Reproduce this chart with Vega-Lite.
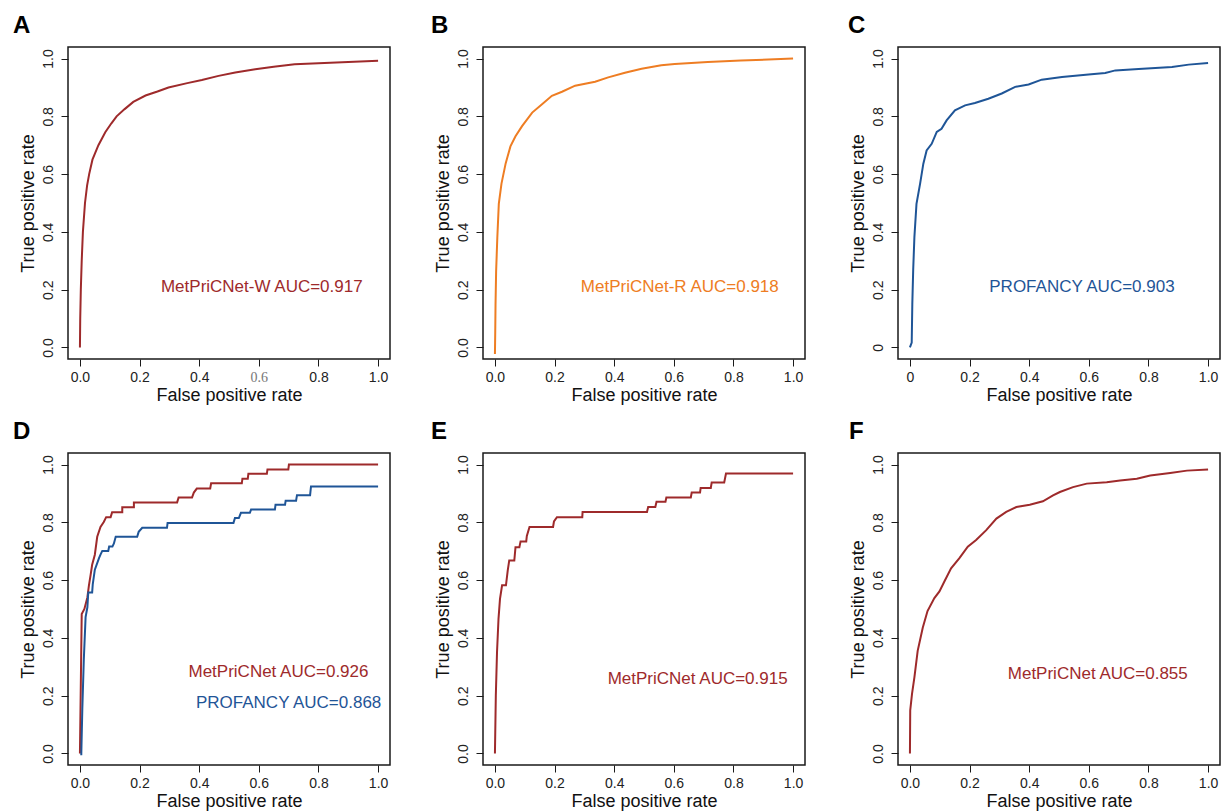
{
  "$schema": "https://vega.github.io/schema/vega-lite/v6.json",
  "background": "white",
  "padding": {"left": 12, "top": 13, "right": 0, "bottom": 0},
  "columns": 3,
  "spacing": {"row": 94, "column": 93},
  "bounds": "flush",
  "datasets": {
    "A": [
      {"fpr":0,"tpr":0},{"fpr":0.001,"tpr":0.1},{"fpr":0.003,"tpr":0.2},{"fpr":0.006,"tpr":0.3},{"fpr":0.01,"tpr":0.4},{"fpr":0.017,"tpr":0.5},{"fpr":0.024,"tpr":0.56},{"fpr":0.031,"tpr":0.6},{"fpr":0.042,"tpr":0.65},{"fpr":0.062,"tpr":0.7},{"fpr":0.085,"tpr":0.745},{"fpr":0.105,"tpr":0.775},{"fpr":0.123,"tpr":0.8},{"fpr":0.15,"tpr":0.825},{"fpr":0.179,"tpr":0.85},{"fpr":0.22,"tpr":0.872},{"fpr":0.26,"tpr":0.886},{"fpr":0.297,"tpr":0.9},{"fpr":0.36,"tpr":0.915},{"fpr":0.409,"tpr":0.926},{"fpr":0.465,"tpr":0.94},{"fpr":0.521,"tpr":0.952},{"fpr":0.588,"tpr":0.963},{"fpr":0.65,"tpr":0.972},{"fpr":0.72,"tpr":0.98},{"fpr":0.8,"tpr":0.984},{"fpr":0.9,"tpr":0.988},{"fpr":1,"tpr":0.992}
    ],
    "B": [
      {"fpr":0,"tpr":-0.023},{"fpr":0.001,"tpr":0.05},{"fpr":0.002,"tpr":0.146},{"fpr":0.004,"tpr":0.263},{"fpr":0.008,"tpr":0.38},{"fpr":0.013,"tpr":0.497},{"fpr":0.022,"tpr":0.567},{"fpr":0.036,"tpr":0.637},{"fpr":0.052,"tpr":0.696},{"fpr":0.069,"tpr":0.731},{"fpr":0.091,"tpr":0.766},{"fpr":0.125,"tpr":0.813},{"fpr":0.158,"tpr":0.842},{"fpr":0.191,"tpr":0.871},{"fpr":0.225,"tpr":0.885},{"fpr":0.269,"tpr":0.906},{"fpr":0.336,"tpr":0.92},{"fpr":0.38,"tpr":0.935},{"fpr":0.436,"tpr":0.951},{"fpr":0.492,"tpr":0.965},{"fpr":0.558,"tpr":0.977},{"fpr":0.603,"tpr":0.981},{"fpr":0.714,"tpr":0.988},{"fpr":0.825,"tpr":0.993},{"fpr":1,"tpr":1.0}
    ],
    "C": [
      {"fpr":0,"tpr":0},{"fpr":0.006,"tpr":0.017},{"fpr":0.008,"tpr":0.15},{"fpr":0.011,"tpr":0.27},{"fpr":0.015,"tpr":0.382},{"fpr":0.022,"tpr":0.497},{"fpr":0.034,"tpr":0.566},{"fpr":0.045,"tpr":0.636},{"fpr":0.056,"tpr":0.682},{"fpr":0.073,"tpr":0.705},{"fpr":0.09,"tpr":0.746},{"fpr":0.106,"tpr":0.757},{"fpr":0.123,"tpr":0.786},{"fpr":0.151,"tpr":0.821},{"fpr":0.185,"tpr":0.838},{"fpr":0.218,"tpr":0.846},{"fpr":0.263,"tpr":0.861},{"fpr":0.308,"tpr":0.879},{"fpr":0.353,"tpr":0.902},{"fpr":0.398,"tpr":0.91},{"fpr":0.442,"tpr":0.927},{"fpr":0.51,"tpr":0.936},{"fpr":0.599,"tpr":0.945},{"fpr":0.655,"tpr":0.95},{"fpr":0.689,"tpr":0.959},{"fpr":0.767,"tpr":0.964},{"fpr":0.879,"tpr":0.971},{"fpr":0.935,"tpr":0.979},{"fpr":1,"tpr":0.985}
    ],
    "D": [
      {"series":"MetPriCNet","fpr":0,"tpr":0},{"series":"MetPriCNet","fpr":0.006,"tpr":0.483},{"series":"MetPriCNet","fpr":0.015,"tpr":0.5},{"series":"MetPriCNet","fpr":0.02,"tpr":0.52},{"series":"MetPriCNet","fpr":0.025,"tpr":0.54},{"series":"MetPriCNet","fpr":0.03,"tpr":0.58},{"series":"MetPriCNet","fpr":0.036,"tpr":0.619},{"series":"MetPriCNet","fpr":0.041,"tpr":0.653},{"series":"MetPriCNet","fpr":0.05,"tpr":0.688},{"series":"MetPriCNet","fpr":0.058,"tpr":0.75},{"series":"MetPriCNet","fpr":0.069,"tpr":0.784},{"series":"MetPriCNet","fpr":0.08,"tpr":0.801},{"series":"MetPriCNet","fpr":0.088,"tpr":0.818},{"series":"MetPriCNet","fpr":0.103,"tpr":0.818},{"series":"MetPriCNet","fpr":0.108,"tpr":0.835},{"series":"MetPriCNet","fpr":0.142,"tpr":0.835},{"series":"MetPriCNet","fpr":0.142,"tpr":0.852},{"series":"MetPriCNet","fpr":0.181,"tpr":0.852},{"series":"MetPriCNet","fpr":0.181,"tpr":0.869},{"series":"MetPriCNet","fpr":0.326,"tpr":0.869},{"series":"MetPriCNet","fpr":0.331,"tpr":0.886},{"series":"MetPriCNet","fpr":0.376,"tpr":0.886},{"series":"MetPriCNet","fpr":0.382,"tpr":0.903},{"series":"MetPriCNet","fpr":0.392,"tpr":0.917},{"series":"MetPriCNet","fpr":0.437,"tpr":0.917},{"series":"MetPriCNet","fpr":0.44,"tpr":0.935},{"series":"MetPriCNet","fpr":0.543,"tpr":0.935},{"series":"MetPriCNet","fpr":0.545,"tpr":0.951},{"series":"MetPriCNet","fpr":0.563,"tpr":0.951},{"series":"MetPriCNet","fpr":0.565,"tpr":0.968},{"series":"MetPriCNet","fpr":0.627,"tpr":0.968},{"series":"MetPriCNet","fpr":0.629,"tpr":0.983},{"series":"MetPriCNet","fpr":0.699,"tpr":0.983},{"series":"MetPriCNet","fpr":0.701,"tpr":1.0},{"series":"MetPriCNet","fpr":1,"tpr":1.0},
      {"series":"PROFANCY","fpr":0.0045,"tpr":-0.006},{"series":"PROFANCY","fpr":0.008,"tpr":0.153},{"series":"PROFANCY","fpr":0.013,"tpr":0.324},{"series":"PROFANCY","fpr":0.019,"tpr":0.472},{"series":"PROFANCY","fpr":0.025,"tpr":0.506},{"series":"PROFANCY","fpr":0.028,"tpr":0.557},{"series":"PROFANCY","fpr":0.041,"tpr":0.557},{"series":"PROFANCY","fpr":0.043,"tpr":0.585},{"series":"PROFANCY","fpr":0.05,"tpr":0.636},{"series":"PROFANCY","fpr":0.064,"tpr":0.676},{"series":"PROFANCY","fpr":0.069,"tpr":0.688},{"series":"PROFANCY","fpr":0.075,"tpr":0.701},{"series":"PROFANCY","fpr":0.095,"tpr":0.701},{"series":"PROFANCY","fpr":0.098,"tpr":0.716},{"series":"PROFANCY","fpr":0.109,"tpr":0.716},{"series":"PROFANCY","fpr":0.114,"tpr":0.727},{"series":"PROFANCY","fpr":0.12,"tpr":0.75},{"series":"PROFANCY","fpr":0.192,"tpr":0.75},{"series":"PROFANCY","fpr":0.197,"tpr":0.767},{"series":"PROFANCY","fpr":0.209,"tpr":0.781},{"series":"PROFANCY","fpr":0.292,"tpr":0.781},{"series":"PROFANCY","fpr":0.294,"tpr":0.798},{"series":"PROFANCY","fpr":0.515,"tpr":0.798},{"series":"PROFANCY","fpr":0.52,"tpr":0.815},{"series":"PROFANCY","fpr":0.533,"tpr":0.815},{"series":"PROFANCY","fpr":0.54,"tpr":0.833},{"series":"PROFANCY","fpr":0.57,"tpr":0.833},{"series":"PROFANCY","fpr":0.574,"tpr":0.844},{"series":"PROFANCY","fpr":0.654,"tpr":0.844},{"series":"PROFANCY","fpr":0.656,"tpr":0.861},{"series":"PROFANCY","fpr":0.688,"tpr":0.861},{"series":"PROFANCY","fpr":0.69,"tpr":0.875},{"series":"PROFANCY","fpr":0.725,"tpr":0.875},{"series":"PROFANCY","fpr":0.728,"tpr":0.894},{"series":"PROFANCY","fpr":0.772,"tpr":0.894},{"series":"PROFANCY","fpr":0.775,"tpr":0.924},{"series":"PROFANCY","fpr":1,"tpr":0.924}
    ],
    "E": [
      {"fpr":0,"tpr":0},{"fpr":0.003,"tpr":0.2},{"fpr":0.007,"tpr":0.35},{"fpr":0.012,"tpr":0.466},{"fpr":0.017,"tpr":0.535},{"fpr":0.024,"tpr":0.582},{"fpr":0.037,"tpr":0.582},{"fpr":0.043,"tpr":0.634},{"fpr":0.048,"tpr":0.668},{"fpr":0.065,"tpr":0.668},{"fpr":0.069,"tpr":0.714},{"fpr":0.082,"tpr":0.714},{"fpr":0.086,"tpr":0.734},{"fpr":0.105,"tpr":0.734},{"fpr":0.107,"tpr":0.753},{"fpr":0.116,"tpr":0.784},{"fpr":0.195,"tpr":0.784},{"fpr":0.198,"tpr":0.803},{"fpr":0.208,"tpr":0.818},{"fpr":0.293,"tpr":0.818},{"fpr":0.294,"tpr":0.836},{"fpr":0.51,"tpr":0.836},{"fpr":0.514,"tpr":0.853},{"fpr":0.538,"tpr":0.853},{"fpr":0.542,"tpr":0.871},{"fpr":0.572,"tpr":0.871},{"fpr":0.575,"tpr":0.886},{"fpr":0.657,"tpr":0.886},{"fpr":0.66,"tpr":0.903},{"fpr":0.688,"tpr":0.903},{"fpr":0.69,"tpr":0.919},{"fpr":0.724,"tpr":0.919},{"fpr":0.727,"tpr":0.938},{"fpr":0.769,"tpr":0.938},{"fpr":0.775,"tpr":0.969},{"fpr":1,"tpr":0.969}
    ],
    "F": [
      {"fpr":0,"tpr":0},{"fpr":0.001,"tpr":0.149},{"fpr":0.007,"tpr":0.206},{"fpr":0.015,"tpr":0.263},{"fpr":0.026,"tpr":0.355},{"fpr":0.043,"tpr":0.435},{"fpr":0.059,"tpr":0.493},{"fpr":0.082,"tpr":0.538},{"fpr":0.099,"tpr":0.561},{"fpr":0.116,"tpr":0.596},{"fpr":0.138,"tpr":0.641},{"fpr":0.166,"tpr":0.676},{"fpr":0.194,"tpr":0.716},{"fpr":0.222,"tpr":0.739},{"fpr":0.256,"tpr":0.773},{"fpr":0.29,"tpr":0.813},{"fpr":0.323,"tpr":0.836},{"fpr":0.357,"tpr":0.853},{"fpr":0.402,"tpr":0.861},{"fpr":0.446,"tpr":0.873},{"fpr":0.48,"tpr":0.893},{"fpr":0.503,"tpr":0.905},{"fpr":0.547,"tpr":0.922},{"fpr":0.593,"tpr":0.934},{"fpr":0.66,"tpr":0.939},{"fpr":0.705,"tpr":0.945},{"fpr":0.761,"tpr":0.951},{"fpr":0.806,"tpr":0.962},{"fpr":0.873,"tpr":0.971},{"fpr":0.929,"tpr":0.979},{"fpr":1,"tpr":0.983}
    ]
  },
  "concat": [
    {
      "width": 322, "height": 312,
      "title": {"text": "A", "dx": -55},
      "encoding": {
        "x": {"field": "fpr", "type": "quantitative", "scale": {"domain": [-0.04, 1.04], "nice": false, "zero": false},
              "axis": {"title": "False positive rate", "values": [0, 0.2, 0.4, 0.6, 0.8, 1.0], "format": ".1f",
                       "labelFont": {"condition": {"test": "datum.value == 0.6", "value": "Liberation Serif"}, "value": "Liberation Sans"},
                       "labelColor": {"condition": {"test": "datum.value == 0.6", "value": "#777777"}, "value": "#222222"}}},
        "y": {"field": "tpr", "type": "quantitative", "scale": {"domain": [-0.04, 1.04], "nice": false, "zero": false},
              "axis": {"title": "True positive rate", "values": [0, 0.2, 0.4, 0.6, 0.8, 1.0], "format": ".1f"}}
      },
      "layer": [
        {"data": {"name": "A"}, "mark": {"type": "line", "color": "#9e2a2b", "strokeWidth": 2}, "encoding": {"order": {"value": null}}},
        {"data": {"values": [{"fpr": 0.61, "tpr": 0.21, "label": "MetPriCNet-W AUC=0.917"}]},
         "mark": {"type": "text", "color": "#9e2a2b", "fontSize": 17, "font": "Liberation Sans"}, "encoding": {"text": {"field": "label"}}}
      ]
    },
    {
      "width": 322, "height": 312,
      "title": {"text": "B", "dx": -52},
      "encoding": {
        "x": {"field": "fpr", "type": "quantitative", "scale": {"domain": [-0.04, 1.04], "nice": false, "zero": false},
              "axis": {"title": "False positive rate", "values": [0, 0.2, 0.4, 0.6, 0.8, 1.0], "format": ".1f"}},
        "y": {"field": "tpr", "type": "quantitative", "scale": {"domain": [-0.04, 1.04], "nice": false, "zero": false},
              "axis": {"title": "True positive rate", "values": [0, 0.2, 0.4, 0.6, 0.8, 1.0], "format": ".1f"}}
      },
      "layer": [
        {"data": {"name": "B"}, "mark": {"type": "line", "color": "#ee7d23", "strokeWidth": 2}, "encoding": {"order": {"value": null}}},
        {"data": {"values": [{"fpr": 0.62, "tpr": 0.21, "label": "MetPriCNet-R AUC=0.918"}]},
         "mark": {"type": "text", "color": "#ee7d23", "fontSize": 17, "font": "Liberation Sans"}, "encoding": {"text": {"field": "label"}}}
      ]
    },
    {
      "width": 322, "height": 312,
      "title": {"text": "C", "dx": -50},
      "encoding": {
        "x": {"field": "fpr", "type": "quantitative", "scale": {"domain": [-0.04, 1.04], "nice": false, "zero": false},
              "axis": {"title": "False positive rate", "values": [0, 0.2, 0.4, 0.6, 0.8, 1.0], "labelExpr": "datum.value == 0 ? '0' : format(datum.value, '.1f')"}},
        "y": {"field": "tpr", "type": "quantitative", "scale": {"domain": [-0.04, 1.04], "nice": false, "zero": false},
              "axis": {"title": "True positive rate", "values": [0, 0.2, 0.4, 0.6, 0.8, 1.0], "labelExpr": "datum.value == 0 ? '0' : format(datum.value, '.1f')"}}
      },
      "layer": [
        {"data": {"name": "C"}, "mark": {"type": "line", "color": "#1f5597", "strokeWidth": 2}, "encoding": {"order": {"value": null}}},
        {"data": {"values": [{"fpr": 0.577, "tpr": 0.208, "label": "PROFANCY AUC=0.903"}]},
         "mark": {"type": "text", "color": "#1f5597", "fontSize": 17, "font": "Liberation Sans"}, "encoding": {"text": {"field": "label"}}}
      ]
    },
    {
      "width": 322, "height": 312,
      "title": {"text": "D", "dx": -55},
      "encoding": {
        "x": {"field": "fpr", "type": "quantitative", "scale": {"domain": [-0.04, 1.04], "nice": false, "zero": false},
              "axis": {"title": "False positive rate", "values": [0, 0.2, 0.4, 0.6, 0.8, 1.0], "format": ".1f"}},
        "y": {"field": "tpr", "type": "quantitative", "scale": {"domain": [-0.04, 1.04], "nice": false, "zero": false},
              "axis": {"title": "True positive rate", "values": [0, 0.2, 0.4, 0.6, 0.8, 1.0], "format": ".1f"}},
        "color": {"field": "series", "type": "nominal", "scale": {"domain": ["MetPriCNet", "PROFANCY"], "range": ["#9e2a2b", "#1f5597"]}, "legend": null}
      },
      "layer": [
        {"data": {"name": "D"}, "mark": {"type": "line", "strokeWidth": 2}, "encoding": {"order": {"value": null}}},
        {"data": {"values": [{"fpr": 0.666, "tpr": 0.283, "series": "MetPriCNet", "label": "MetPriCNet AUC=0.926"}, {"fpr": 0.70, "tpr": 0.174, "series": "PROFANCY", "label": "PROFANCY AUC=0.868"}]},
         "mark": {"type": "text", "fontSize": 17, "font": "Liberation Sans"}, "encoding": {"text": {"field": "label"}}}
      ]
    },
    {
      "width": 322, "height": 312,
      "title": {"text": "E", "dx": -52},
      "encoding": {
        "x": {"field": "fpr", "type": "quantitative", "scale": {"domain": [-0.04, 1.04], "nice": false, "zero": false},
              "axis": {"title": "False positive rate", "values": [0, 0.2, 0.4, 0.6, 0.8, 1.0], "format": ".1f"}},
        "y": {"field": "tpr", "type": "quantitative", "scale": {"domain": [-0.04, 1.04], "nice": false, "zero": false},
              "axis": {"title": "True positive rate", "values": [0, 0.2, 0.4, 0.6, 0.8, 1.0], "format": ".1f"}}
      },
      "layer": [
        {"data": {"name": "E"}, "mark": {"type": "line", "color": "#9e2a2b", "strokeWidth": 2}, "encoding": {"order": {"value": null}}},
        {"data": {"values": [{"fpr": 0.68, "tpr": 0.257, "label": "MetPriCNet AUC=0.915"}]},
         "mark": {"type": "text", "color": "#9e2a2b", "fontSize": 17, "font": "Liberation Sans"}, "encoding": {"text": {"field": "label"}}}
      ]
    },
    {
      "width": 322, "height": 312,
      "title": {"text": "F", "dx": -49},
      "encoding": {
        "x": {"field": "fpr", "type": "quantitative", "scale": {"domain": [-0.04, 1.04], "nice": false, "zero": false},
              "axis": {"title": "False positive rate", "values": [0, 0.2, 0.4, 0.6, 0.8, 1.0], "format": ".1f"}},
        "y": {"field": "tpr", "type": "quantitative", "scale": {"domain": [-0.04, 1.04], "nice": false, "zero": false},
              "axis": {"title": "True positive rate", "values": [0, 0.2, 0.4, 0.6, 0.8, 1.0], "format": ".1f"}}
      },
      "layer": [
        {"data": {"name": "F"}, "mark": {"type": "line", "color": "#9e2a2b", "strokeWidth": 2}, "encoding": {"order": {"value": null}}},
        {"data": {"values": [{"fpr": 0.63, "tpr": 0.275, "label": "MetPriCNet AUC=0.855"}]},
         "mark": {"type": "text", "color": "#9e2a2b", "fontSize": 17, "font": "Liberation Sans"}, "encoding": {"text": {"field": "label"}}}
      ]
    }
  ],
  "config": {
    "font": "Liberation Sans",
    "view": {"stroke": "#1a1a1a", "strokeWidth": 1.5},
    "title": {"anchor": "start", "frame": "group", "fontSize": 24, "fontWeight": "bold", "font": "Liberation Sans", "color": "#000000", "offset": 9},
    "axis": {
      "domain": false, "grid": false,
      "ticks": true, "tickColor": "#1a1a1a", "tickSize": 7, "tickWidth": 1,
      "labelFont": "Liberation Sans", "labelFontSize": 14, "labelColor": "#222222", "labelPadding": 4,
      "titleFont": "Liberation Sans", "titleFontSize": 18, "titleFontWeight": "normal", "titleColor": "#111111", "titlePadding": 3
    },
    "axisY": {"labelAngle": -90, "labelAlign": "center", "labelBaseline": "bottom", "labelPadding": 6, "titlePadding": 4},
    "axisX": {"labelPadding": 4, "titlePadding": 2}
  }
}
